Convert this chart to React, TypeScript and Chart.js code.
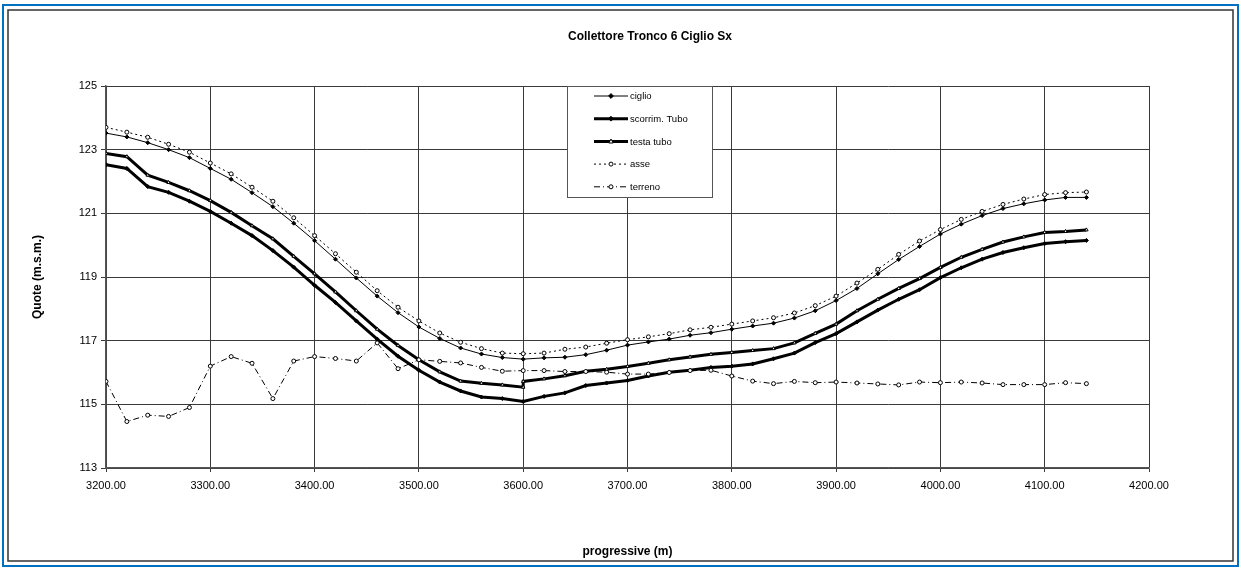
import React, { useEffect, useRef } from 'react';
import { Chart, registerables } from 'chart.js';

Chart.register(...registerables);

const chartTitle = 'Collettore Tronco 6 Ciglio Sx';
const xTitle = 'progressive (m)';
const yTitle = 'Quote (m.s.m.)';

const progressive = [
  3200, 3220, 3240, 3260, 3280, 3300, 3320, 3340, 3360, 3380,
  3400, 3420, 3440, 3460, 3480, 3500, 3520, 3540, 3560, 3580,
  3600, 3620, 3640, 3660, 3680, 3700, 3720, 3740, 3760, 3780,
  3800, 3820, 3840, 3860, 3880, 3900, 3920, 3940, 3960, 3980,
  4000, 4020, 4040, 4060, 4080, 4100, 4120, 4140,
];

const progressiveTesta = [
  3200, 3220, 3240, 3260, 3280, 3300, 3320, 3340, 3360, 3380,
  3400, 3420, 3440, 3460, 3480, 3500, 3520, 3540, 3560, 3580,
  3600, 3600, 3620, 3640, 3660, 3680, 3700, 3720, 3740, 3760, 3780,
  3800, 3820, 3840, 3860, 3880, 3900, 3920, 3940, 3960, 3980,
  4000, 4020, 4040, 4060, 4080, 4100, 4120, 4140,
];

const ciglio = [
  123.52, 123.40, 123.22, 123.00, 122.75, 122.41, 122.07, 121.65, 121.21, 120.69,
  120.14, 119.56, 118.97, 118.40, 117.88, 117.43, 117.07, 116.77, 116.58, 116.47,
  116.42, 116.46, 116.48, 116.56, 116.70, 116.86, 116.96, 117.05, 117.17, 117.25,
  117.36, 117.46, 117.55, 117.71, 117.94, 118.26, 118.64, 119.10, 119.55, 119.96,
  120.35, 120.66, 120.93, 121.15, 121.30, 121.42, 121.50, 121.50,
];

const scorrimTubo = [
  122.53, 122.41, 121.84, 121.66, 121.38, 121.06, 120.69, 120.30, 119.83, 119.31,
  118.74, 118.20, 117.62, 117.05, 116.51, 116.07, 115.70, 115.42, 115.23, 115.18,
  115.09, 115.25, 115.36, 115.59, 115.67, 115.75, 115.89, 116.01, 116.07, 116.16,
  116.20, 116.27, 116.43, 116.61, 116.94, 117.22, 117.59, 117.96, 118.30, 118.60,
  118.98, 119.29, 119.56, 119.77, 119.92, 120.05, 120.11, 120.15,
];

const testaTubo = [
  122.88, 122.78, 122.20, 121.97, 121.71, 121.40, 121.03, 120.61, 120.20, 119.65,
  119.10, 118.53, 117.94, 117.36, 116.85, 116.40, 116.02, 115.73, 115.66, 115.61,
  115.54, 115.72, 115.80, 115.90, 116.04, 116.10, 116.19, 116.29, 116.40, 116.49,
  116.57, 116.63, 116.69, 116.75, 116.93, 117.23, 117.52, 117.94, 118.30, 118.64,
  118.95, 119.30, 119.62, 119.87, 120.10, 120.26, 120.40, 120.43, 120.48,
];

const asse = [
  123.70, 123.55, 123.39, 123.17, 122.92, 122.58, 122.24, 121.82, 121.38, 120.86,
  120.30, 119.73, 119.15, 118.57, 118.05, 117.62, 117.24, 116.95, 116.75, 116.61,
  116.59, 116.61, 116.73, 116.80, 116.92, 117.03, 117.12, 117.22, 117.34, 117.42,
  117.52, 117.62, 117.72, 117.87, 118.10, 118.40, 118.81, 119.24, 119.71, 120.13,
  120.49, 120.81, 121.06, 121.28, 121.45, 121.59, 121.65, 121.67,
];

const terreno = [
  115.72, 114.46, 114.66, 114.62, 114.90, 116.20, 116.50, 116.29, 115.18, 116.36,
  116.50, 116.44, 116.36, 116.93, 116.12, 116.40, 116.35, 116.30, 116.16, 116.04,
  116.06, 116.06, 116.03, 116.03, 116.01, 115.95, 115.95, 116.00, 116.06, 116.07,
  115.89, 115.73, 115.65, 115.72, 115.68, 115.70, 115.67, 115.64, 115.61, 115.70,
  115.68, 115.70, 115.67, 115.62, 115.62, 115.62, 115.68, 115.65,
];

const FONT = "'Liberation Sans', Arial, sans-serif";

const toPoints = (xs: number[], ys: number[]) => xs.map((x, i) => ({ x, y: ys[i] }));

function drawMarker(ctx: CanvasRenderingContext2D, style: string, x: number, y: number, r: number, fill: string) {
  ctx.save();
  ctx.setLineDash([]);
  ctx.lineWidth = 1;
  ctx.strokeStyle = '#000';
  ctx.fillStyle = fill;
  ctx.beginPath();
  if (style === 'rectRot') {
    ctx.moveTo(x, y - r * 1.2);
    ctx.lineTo(x + r * 1.2, y);
    ctx.lineTo(x, y + r * 1.2);
    ctx.lineTo(x - r * 1.2, y);
    ctx.closePath();
  } else if (style === 'triangle') {
    ctx.moveTo(x, y - r * 1.2);
    ctx.lineTo(x + r * 1.1, y + r * 0.8);
    ctx.lineTo(x - r * 1.1, y + r * 0.8);
    ctx.closePath();
  } else {
    ctx.arc(x, y, r, 0, Math.PI * 2);
  }
  ctx.fill();
  ctx.stroke();
  ctx.restore();
}

const framePlugin = {
  id: 'frame',
  beforeDraw(chart: any) {
    const ctx = chart.ctx as CanvasRenderingContext2D;
    const w = chart.width;
    const h = chart.height;
    ctx.save();
    ctx.fillStyle = '#ffffff';
    ctx.fillRect(0, 0, w, h);
    ctx.strokeStyle = '#0070C0';
    ctx.lineWidth = 2;
    ctx.strokeRect(3, 5, w - 6, h - 8);
    ctx.strokeStyle = '#333333';
    ctx.lineWidth = 1.5;
    ctx.strokeRect(8, 10, w - 16, h - 18);
    ctx.restore();
  },
  afterDraw(chart: any) {
    const ctx = chart.ctx as CanvasRenderingContext2D;
    ctx.save();
    ctx.fillStyle = '#000';
    ctx.font = `bold 12px ${FONT}`;
    ctx.textAlign = 'center';
    ctx.textBaseline = 'middle';
    ctx.fillText(chartTitle, 650, 37);

    // legend
    const bx = 567, by = 86, bw = 145, bh = 111;
    ctx.fillStyle = '#fff';
    ctx.fillRect(bx, by, bw, bh);
    ctx.strokeStyle = '#555';
    ctx.lineWidth = 1;
    ctx.strokeRect(bx + 0.5, by + 0.5, bw, bh);
    const step = 22.7;
    chart.data.datasets.forEach((ds: any, i: number) => {
      const y = 96 + i * step;
      ctx.save();
      ctx.beginPath();
      ctx.setLineDash(ds.borderDash || []);
      ctx.lineWidth = ds.borderWidth;
      ctx.strokeStyle = '#000';
      ctx.moveTo(594, y);
      ctx.lineTo(628, y);
      ctx.stroke();
      ctx.restore();
      drawMarker(ctx, ds.pointStyle, 611, y, ds.pointRadius, ds.pointBackgroundColor);
      ctx.fillStyle = '#000';
      ctx.font = `9.5px ${FONT}`;
      ctx.textAlign = 'left';
      ctx.textBaseline = 'middle';
      ctx.fillText(ds.label, 630, y + 0.5);
    });
    ctx.restore();
  },
};

export default function App() {
  const canvasRef = useRef<HTMLCanvasElement | null>(null);

  useEffect(() => {
    const canvas = canvasRef.current;
    if (!canvas) return;
    const base = {
      showLine: true,
      tension: 0,
      borderColor: '#000',
      pointBorderColor: '#000',
      pointBorderWidth: 1,
      pointHoverRadius: 2,
    };
    const chart = new Chart(canvas, {
      type: 'scatter',
      data: {
        datasets: [
          {
            ...base,
            label: 'ciglio',
            data: toPoints(progressive, ciglio),
            borderWidth: 1,
            pointStyle: 'rectRot',
            pointRadius: 2,
            pointBackgroundColor: '#000',
            order: 4,
          },
          {
            ...base,
            label: 'scorrim. Tubo',
            data: toPoints(progressive, scorrimTubo),
            borderWidth: 3,
            pointStyle: 'rectRot',
            pointRadius: 2,
            pointBackgroundColor: '#000',
            order: 3,
          },
          {
            ...base,
            label: 'testa tubo',
            data: toPoints(progressiveTesta, testaTubo),
            borderWidth: 3,
            pointStyle: 'triangle',
            pointRadius: 2,
            pointBackgroundColor: '#fff',
            order: 2,
          },
          {
            ...base,
            label: 'asse',
            data: toPoints(progressive, asse),
            borderWidth: 1,
            borderDash: [2, 3],
            pointStyle: 'circle',
            pointRadius: 2,
            pointBackgroundColor: '#fff',
            order: 1,
          },
          {
            ...base,
            label: 'terreno',
            data: toPoints(progressive, terreno),
            borderWidth: 1,
            borderDash: [6, 3, 1, 3],
            pointStyle: 'circle',
            pointRadius: 2,
            pointBackgroundColor: '#fff',
            order: 0,
          },
        ],
      },
      options: {
        animation: false,
        responsive: false,
        maintainAspectRatio: false,
        layout: { padding: { left: 20, right: 92, top: 86, bottom: 8 } },
        plugins: {
          legend: { display: false },
          title: { display: false },
          tooltip: { enabled: false },
        },
        scales: {
          x: {
            type: 'linear',
            min: 3200,
            max: 4200,
            afterFit: (scale: any) => { scale.height = 93; },
            ticks: {
              stepSize: 100,
              color: '#000',
              font: { family: FONT, size: 11 },
              padding: 7,
              maxRotation: 0,
              callback: (v: any) => Number(v).toFixed(2),
            },
            grid: { color: '#3a3a3a', lineWidth: 1, tickLength: 4 },
            border: { color: '#555', width: 1.5 },
            title: {
              display: true,
              text: xTitle,
              color: '#000',
              font: { family: FONT, size: 12, weight: 'bold' },
              padding: { top: 0, bottom: 2 },
            },
          },
          y: {
            type: 'linear',
            min: 113,
            max: 125,
            afterFit: (scale: any) => { scale.width = 86; },
            ticks: {
              stepSize: 2,
              color: '#000',
              font: { family: FONT, size: 11 },
              padding: 4,
            },
            grid: { color: '#3a3a3a', lineWidth: 1, tickLength: 5 },
            border: { color: '#555', width: 1.5 },
            title: {
              display: true,
              text: yTitle,
              color: '#000',
              font: { family: FONT, size: 12, weight: 'bold' },
              padding: { top: 10, bottom: 0 },
            },
          },
        },
      },
      plugins: [framePlugin],
    } as any);
    return () => chart.destroy();
  }, []);

  return (
    <div style={{ position: 'fixed', left: 0, top: 0, width: 1241, height: 569 }}>
      <canvas ref={canvasRef} width={1241} height={569} style={{ width: 1241, height: 569, display: 'block' }} />
    </div>
  );
}
